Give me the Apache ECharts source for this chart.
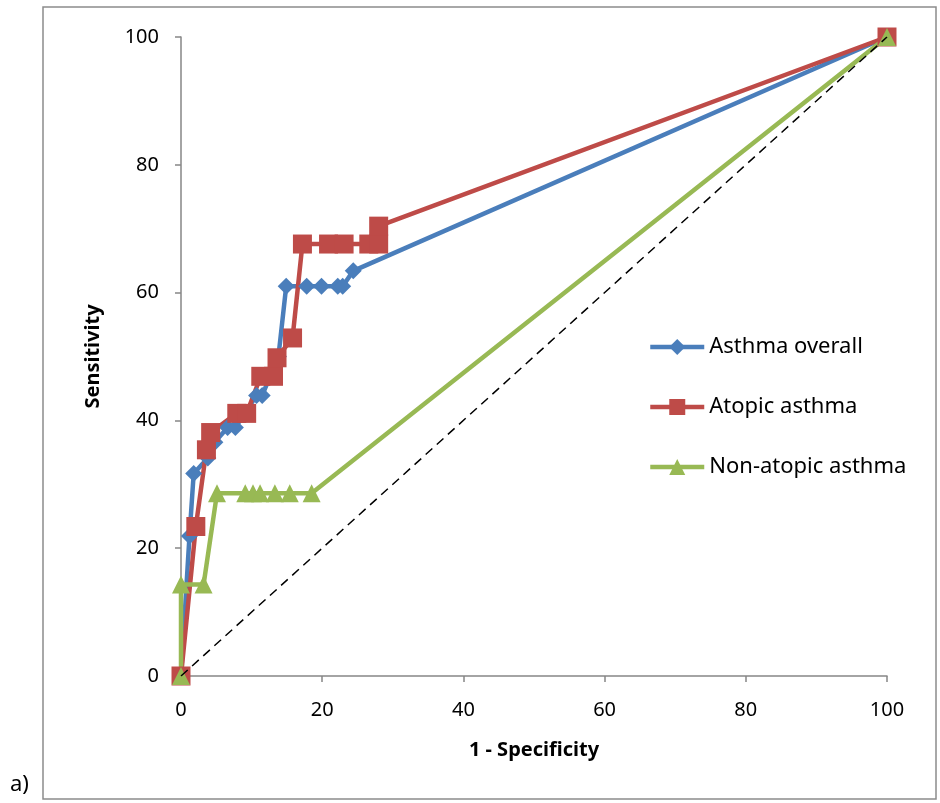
<!DOCTYPE html>
<html>
<head>
<meta charset="utf-8">
<script src="https://cdn.jsdelivr.net/npm/echarts@6/dist/echarts.min.js"></script>
<style>
  html, body { margin: 0; padding: 0; background: #fff; }
  #chart { width: 940px; height: 803px; }
</style>
</head>
<body>
<div id="chart"></div>
<script>
// points: [1 - specificity, sensitivity]
const asthmaOverall = [
  [0, 0], [1.2, 21.9], [1.8, 31.7], [3.8, 34.1], [4.8, 36.6], [6.6, 38.9], [7.7, 38.9],
  [10.7, 43.9], [11.5, 43.9], [13.8, 50], [14.9, 61], [17.8, 61], [19.9, 61],
  [22.2, 61], [22.9, 61], [24.4, 63.4], [100, 100]
];
const atopicAsthma = [
  [0, 0], [2.1, 23.4], [3.6, 35.4], [4.2, 38.1], [7.9, 41.1], [9.3, 41.1],
  [11.3, 46.9], [13.1, 46.9], [13.6, 49.8], [15.8, 52.9], [17.2, 67.6], [20.9, 67.6],
  [23.1, 67.6], [26.6, 67.6], [28.0, 67.6], [28.0, 70.4], [100, 100]
];
const nonAtopicAsthma = [
  [0, 0], [0, 14.3], [3.2, 14.3], [5.1, 28.6], [9.1, 28.6], [10.2, 28.6], [11.2, 28.6],
  [13.3, 28.6], [15.4, 28.6], [18.5, 28.6], [100, 100]
];
const chanceLine = [[0, 0], [100, 100]];
const seriesNames = ["Asthma overall", "Atopic asthma", "Non-atopic asthma"];
const axisTicks = [0, 20, 40, 60, 80, 100];

const font = "'Noto Sans', sans-serif";
const chart = echarts.init(document.getElementById("chart"));

function rocSeries(name, data, color, symbol, size) {
  return {
    name: name,
    type: "line",
    data: data,
    symbol: symbol,
    symbolSize: size,
    showAllSymbol: true,
    lineStyle: { width: 4.5, color: color },
    itemStyle: { color: color },
    emphasis: { disabled: true },
  };
}

const axisBase = {
  type: "value",
  min: axisTicks[0],
  max: axisTicks[axisTicks.length - 1],
  interval: 20,
  axisLine: { show: true, lineStyle: { color: "#868686", width: 1.5 } },
  axisTick: { show: true, inside: false, length: 6, lineStyle: { color: "#868686", width: 1.5 } },
  splitLine: { show: false },
  nameTextStyle: { fontFamily: font, fontSize: 20, fontWeight: "bold", color: "#000" },
};

chart.setOption({
  animation: false,
  grid: { left: 181, right: 53, top: 37, bottom: 127, containLabel: false },
  xAxis: Object.assign({}, axisBase, {
    name: "1 - Specificity",
    nameLocation: "middle",
    nameGap: 64,
    axisLabel: { fontFamily: font, fontSize: 20, color: "#000", margin: 24 },
  }),
  yAxis: Object.assign({}, axisBase, {
    name: "Sensitivity",
    nameLocation: "middle",
    nameGap: 78,
    axisLabel: { fontFamily: font, fontSize: 20, color: "#000", margin: 22 },
  }),
  legend: {
    data: seriesNames,
    orient: "vertical",
    left: 643,
    top: 331,
    itemWidth: 54,
    itemHeight: 20,
    itemGap: 38,
    lineStyle: { width: 4.5 },
    textStyle: { fontFamily: font, fontSize: 22, color: "#000" },
  },
  graphic: [
    {
      type: "rect",
      shape: { x: 43, y: 7, width: 893, height: 792 },
      style: { fill: "none", stroke: "#8c8c8c", lineWidth: 1.5 },
      silent: true,
    },
    {
      type: "text",
      left: 10,
      top: 774,
      style: { text: "a)", fontFamily: font, fontSize: 22, fill: "#000" },
    },
  ],
  series: [
    rocSeries(seriesNames[0], asthmaOverall, "#4a7ebb", "diamond", 17),
    rocSeries(seriesNames[1], atopicAsthma, "#be4b48", "rect", 19),
    rocSeries(seriesNames[2], nonAtopicAsthma, "#98b954", "triangle", 18),
    {
      name: "chance",
      type: "line",
      data: chanceLine,
      symbol: "none",
      lineStyle: { color: "#000", width: 1.5, type: [9, 6] },
      z: 5,
      emphasis: { disabled: true },
    },
  ],
});
</script>
</body>
</html>
